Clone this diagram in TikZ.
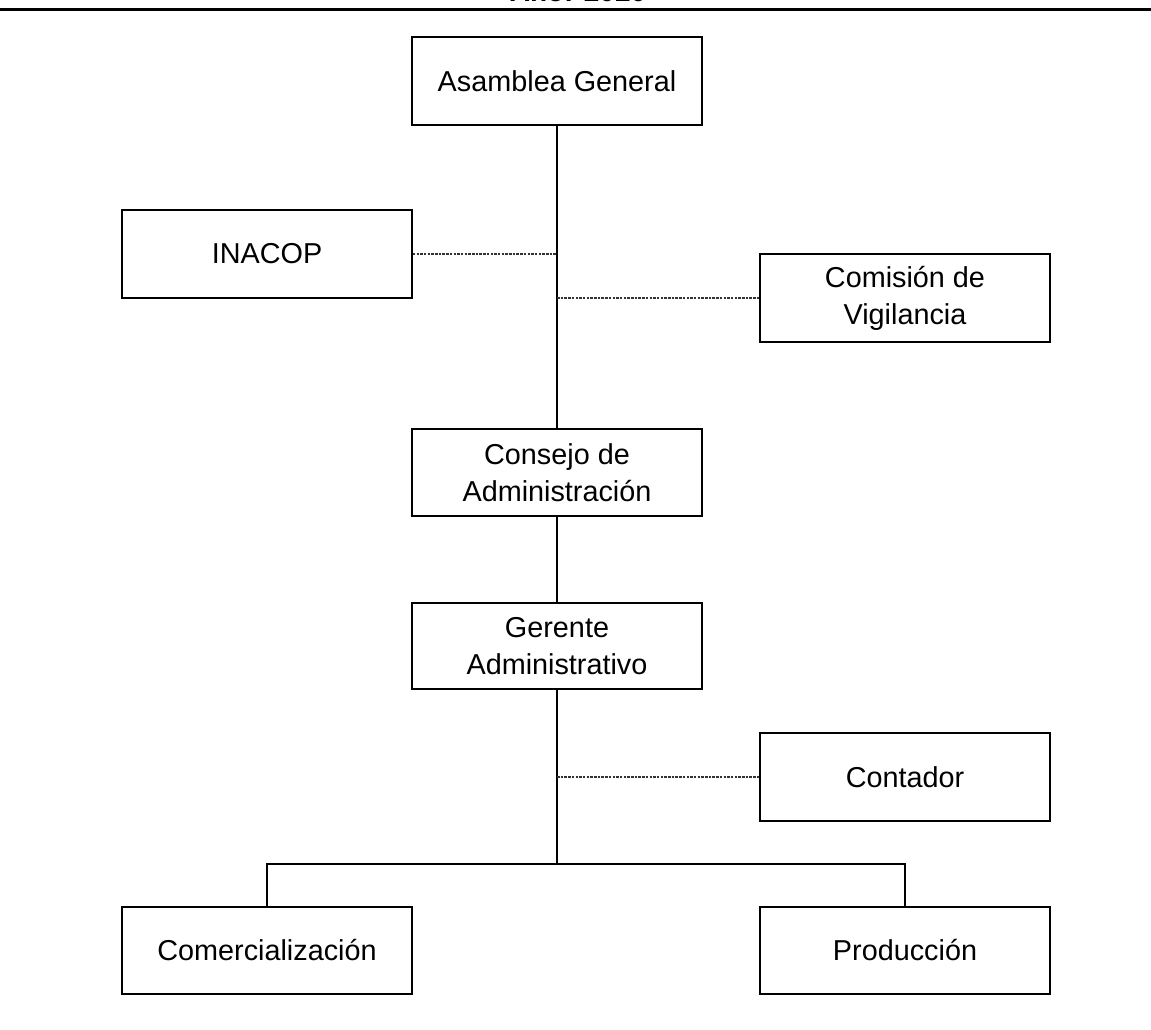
\documentclass[tikz,border=0pt]{standalone}
\usepackage{fontspec}
\setmainfont{Liberation Sans}
\begin{document}
\begin{tikzpicture}[x=1pt,y=-1pt,
  orgbox/.style={draw=black, line width=1.6pt, fill=white, minimum width=290pt, inner sep=0pt,
    align=center, font=\fontsize{28.8}{37}\selectfont},
  solidlink/.style={draw=black, line width=1.1pt},
  buslink/.style={draw=black, line width=2pt},
  dotlink/.style={draw=black!80, line width=1.8pt, dash pattern=on 2.5pt off 1.2pt}
]
\clip (0,0) rectangle (1151,1030);
\fill[white] (0,0) rectangle (1151,1030);
% header
\node[anchor=base, font=\bfseries\fontsize{28}{34}\selectfont, inner sep=0pt] (hdr) at (578,2) {Año: 2020};
\coordinate (rl) at (0,9.5);
\coordinate (rr) at (1151,9.5);
\draw[line width=3pt] (rl) -- (rr);
% boxes
\node[orgbox, minimum height=88pt] (ag) at (557,81) {Asamblea General};
\node[orgbox, minimum height=88pt] (inacop) at (267,254) {INACOP};
\node[orgbox, minimum height=88pt] (comision) at (905,298) {Comisión de\\Vigilancia};
\node[orgbox, minimum height=87pt] (consejo) at (557,472.5) {Consejo de\\Administración};
\node[orgbox, minimum height=86pt] (gerente) at (557,646) {Gerente\\Administrativo};
\node[orgbox, minimum height=88pt] (contador) at (905,777) {Contador};
\node[orgbox, minimum height=87pt] (comerc) at (267,950.5) {Comercialización};
\node[orgbox, minimum height=87pt] (prod) at (905,950.5) {Producción};
% coordinates on main line
\coordinate (j1) at (557,254);
\coordinate (j2) at (557,298);
\coordinate (j3) at (557,777);
\coordinate (bus) at (557,864);
% connectors
\draw[solidlink] (ag.south) -- (consejo.north);
\draw[solidlink] (consejo.south) -- (gerente.north);
\draw[solidlink] (gerente.south) -- (bus);
\draw[dotlink] (inacop.east) -- (j1);
\draw[dotlink, line width=1.3pt] (j2) -- (comision.west);
\draw[dotlink, line width=1.5pt] (j3) -- (contador.west);
\draw[buslink] (comerc.north) |- (bus);
\draw[buslink] (bus) -| (prod.north);
\end{tikzpicture}
\end{document}
